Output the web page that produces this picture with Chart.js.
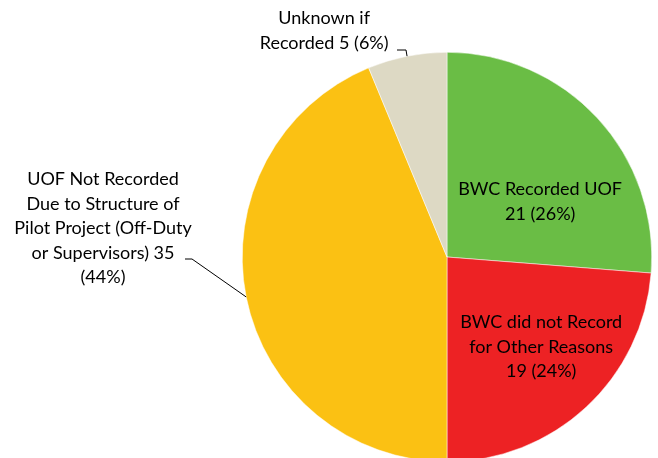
<!DOCTYPE html>
<html>
<head>
<meta charset="utf-8">
<script src="https://cdn.jsdelivr.net/npm/chart.js@4"></script>
<style>
  html, body { margin: 0; padding: 0; background: #fff; overflow: hidden; }
  #wrap { width: 658px; height: 470px; position: relative; }
</style>
</head>
<body>
<div id="wrap"><canvas id="uof__pie"></canvas></div>
<script>
const categorias = ['BWC Recorded UOF', 'BWC did not Record for Other Reasons', 'UOF Not Recorded Due to Structure of Pilot Project (Off-Duty or Supervisors)', 'Unknown if Recorded'];
const conteos = [21, 19, 35, 5];
const colores = ['#6abd45', '#ed2224', '#fbc113', '#ddd9c4'];

const total = conteos.reduce((a, b) => a + b, 0);
const pct = conteos.map(v => Math.round(v / total * 100));

// texto de cada etiqueta, por lineas
const lineas = [
    ['BWC Recorded UOF', `${conteos[0]} (${pct[0]}%)`],
    ['BWC did not Record', 'for Other Reasons', `${conteos[1]} (${pct[1]}%)`],
    ['UOF Not Recorded', 'Due to Structure of', 'Pilot Project (Off-Duty', `or Supervisors) ${conteos[2]}`, `(${pct[2]}%)`],
    ['Unknown if', `Recorded ${conteos[3]} (${pct[3]}%)`]
];

// posicion del centro de la etiqueta, en fracciones del radio
const posEtiqueta = [
    { dx: 0.455, dy: -0.27 },
    { dx: 0.46, dy: 0.44 },
    { dx: -1.68, dy: -0.14 },
    { dx: -0.6, dy: -1.105 }
];

const etiquetas = {
    id: 'etiquetas',
    afterDatasetsDraw(chart) {
        const ctx = chart.ctx;
        const arcos = chart.getDatasetMeta(0).data;
        ctx.save();
        ctx.font = '18px Lato, "Open Sans", sans-serif';
        ctx.fillStyle = '#000';
        ctx.textAlign = 'center';
        ctx.textBaseline = 'middle';
        const alto = 24.5;
        arcos.forEach((arc, i) => {
            const r = arc.outerRadius;
            const cx = arc.x + posEtiqueta[i].dx * r;
            const cy = arc.y + posEtiqueta[i].dy * r;
            const n = lineas[i].length;
            lineas[i].forEach((t, k) => {
                ctx.fillText(t, cx, cy + (k - (n - 1) / 2) * alto);
            });
        });

        // lineas guia de las etiquetas exteriores
        ctx.strokeStyle = '#000';
        ctx.lineWidth = 1;
        const guia = (i, codo, fin) => {
            const arc = arcos[i];
            const m = (arc.startAngle + arc.endAngle) / 2;
            ctx.beginPath();
            ctx.moveTo(arc.x + Math.cos(m) * arc.outerRadius, arc.y + Math.sin(m) * arc.outerRadius);
            ctx.lineTo(codo.x, codo.y);
            ctx.lineTo(fin.x, fin.y);
            ctx.stroke();
        };
        const a2 = arcos[2], a3 = arcos[3];
        guia(2, { x: a2.x - 255, y: a2.y + 2 }, { x: a2.x - 262, y: a2.y + 2 });
        guia(3, { x: a3.x - 41, y: a3.y - 207 }, { x: a3.x - 50, y: a3.y - 207 });
        ctx.restore();
    }
};

const ctx = document.getElementById('uof__pie').getContext('2d');

const miGrafico = new Chart(ctx, {
    type: 'pie',
    data: {
        labels: categorias,
        datasets: [{
            data: conteos,
            backgroundColor: colores,
            borderColor: '#ffffff',
            borderWidth: 0.5
        }]
    },
    options: {
        responsive: true,
        maintainAspectRatio: false,
        animation: false,
        layout: {
            padding: { left: 242, right: 6, top: 52, bottom: 8 }
        },
        plugins: {
            legend: { display: false },
            tooltip: { enabled: false }
        }
    },
    plugins: [etiquetas]
});
</script>
</body>
</html>
